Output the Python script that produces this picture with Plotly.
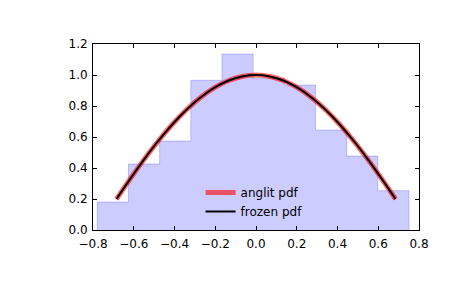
import plotly.graph_objects as go

# Histogram (density)
bin_edges = [-0.779, -0.626, -0.473, -0.320, -0.167, -0.014, 0.139, 0.292, 0.445, 0.598, 0.751]
bin_heights = [0.181, 0.426, 0.574, 0.966, 1.135, 0.979, 0.935, 0.645, 0.477, 0.254]

# pdf curve points
curve_x = [-0.685, -0.6165, -0.548, -0.4795, -0.411, -0.3425, -0.274, -0.2055, -0.137, -0.0685, 0.0,
           0.0685, 0.137, 0.2055, 0.274, 0.3425, 0.411, 0.4795, 0.548, 0.6165, 0.685]
curve_y = [0.1995, 0.3314, 0.4572, 0.5743, 0.6806, 0.7744, 0.8536, 0.9167, 0.9627, 0.9906, 1.0,
           0.9906, 0.9627, 0.9167, 0.8536, 0.7744, 0.6806, 0.5743, 0.4572, 0.3314, 0.1995]

x_ticks = [-0.8, -0.6, -0.4, -0.2, 0.0, 0.2, 0.4, 0.6, 0.8]
y_ticks = [0.0, 0.2, 0.4, 0.6, 0.8, 1.0, 1.2]

# step outline of histogram
hx = [bin_edges[0]] + list(bin_edges) + [bin_edges[-1]]
hy = [0.0] + list(bin_heights) + [bin_heights[-1], 0.0]

fig = go.Figure()
fig.add_trace(go.Scatter(
    x=hx, y=hy, mode="lines", line=dict(shape="hv", color="rgba(0,0,255,0.2)", width=1),
    fill="tozeroy", fillcolor="rgba(0,0,255,0.2)", showlegend=False, hoverinfo="skip"))
fig.add_trace(go.Scatter(
    x=curve_x, y=curve_y, mode="lines", name="anglit pdf",
    line=dict(color="rgba(255,0,0,0.6)", width=5, shape="spline")))
fig.add_trace(go.Scatter(
    x=curve_x, y=curve_y, mode="lines", name="frozen pdf",
    line=dict(color="black", width=2, shape="spline")))

font = dict(family="DejaVu Sans", size=12, color="black")
axis_common = dict(showgrid=False, zeroline=False, showline=True, linecolor="black", linewidth=1,
                   mirror="allticks", ticks="inside", ticklen=4, tickcolor="black", tickwidth=1,
                   tickfont=font, tickformat=".1f")
fig.update_layout(
    width=465, height=288,
    margin=dict(l=93, r=46, t=44, b=58),
    paper_bgcolor="white", plot_bgcolor="white",
    font=font,
    xaxis=dict(range=[-0.8, 0.8], tickvals=x_ticks, ticklabelstandoff=3, **axis_common),
    yaxis=dict(range=[0.0, 1.2], tickvals=y_ticks, ticklabelstandoff=2, **axis_common),
    legend=dict(x=0.33, y=0.28, xanchor="left", yanchor="top", bgcolor="rgba(0,0,0,0)",
                font=font, itemwidth=30, tracegroupgap=0),
)
fig.write_html("out.html")
